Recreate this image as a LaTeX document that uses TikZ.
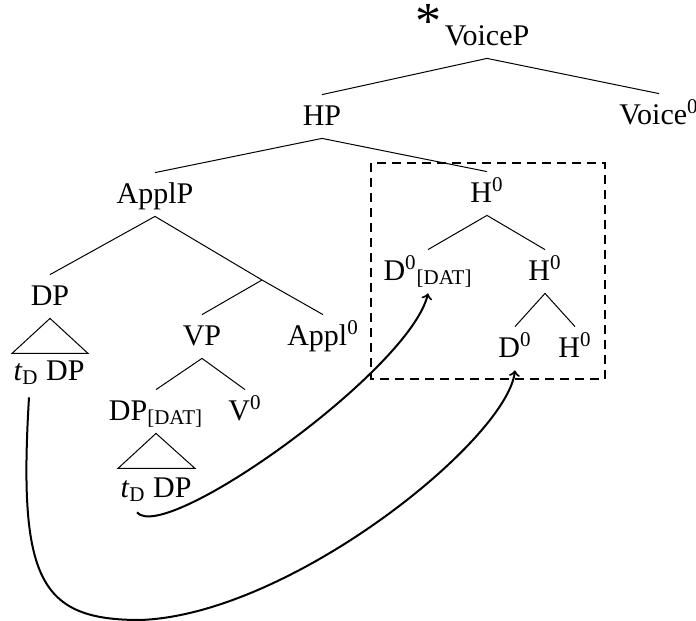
\documentclass[tikz,border=0pt]{standalone}
\usepackage{fontspec}
\setmainfont{Liberation Serif}
\usetikzlibrary{calc}
\begin{document}
\begin{tikzpicture}[x=.5pt,y=-.5pt,font=\fontsize{15}{18}\selectfont,
  lbl/.style={anchor=base,text height=11pt,text depth=2.5pt,inner ysep=4pt,inner xsep=1pt},
  br/.style={line width=.5pt},
  mv/.style={line width=1pt,->}]
 \useasboundingbox (0,0) rectangle (696,621);
 \node[lbl] (voicep) at (487,45) {VoiceP};
 \node[anchor=base east,inner sep=0pt] (star) at (voicep.base west) {\raisebox{3pt}{\fontsize{26}{26}\selectfont *}};
 \node[lbl] (hp) at (322,125) {HP};
 \node[lbl] (voice0) at (659,124) {Voice\textsuperscript{0}};
 \node[lbl] (applp) at (155,203) {ApplP};
 \node[lbl] (htop) at (487,202) {H\textsuperscript{0}};
 \node[lbl] (dp) at (50,305) {DP};
 \node[lbl] (vp) at (202,345) {VP};
 \node[lbl] (appl0) at (323,345) {Appl\textsuperscript{0}};
 \node[lbl] (dpdat) at (156,420) {DP\textsubscript{[DAT]}};
 \node[lbl] (v0) at (245,420) {V\textsuperscript{0}};
 \node[lbl] (ddat) at (428,280) {D\textsuperscript{0}\textsubscript{[DAT]}};
 \node[lbl] (hmid) at (545,280) {H\textsuperscript{0}};
 \node[lbl] (dzero) at (515,357) {D\textsuperscript{0}};
 \node[lbl] (hbot) at (575,357) {H\textsuperscript{0}};
 \node[lbl] (tda) at (49,380) {\textit{t}\textsubscript{D} DP};
 \node[lbl] (tdb) at (156,497) {\textit{t}\textsubscript{D} DP};
 \coordinate (abar) at (262,280);
 \foreach \a/\b in {voicep/hp,voicep/voice0,hp/applp,hp/htop,applp/dp,vp/dpdat,vp/v0,htop/ddat,htop/hmid,hmid/dzero,hmid/hbot}
  \draw[br] (\a.south)--(\b.north);
 \draw[br] (applp.south)--(abar)--(appl0.north); \draw[br] (abar)--(vp.north);
 \draw[br] (dp.south)--++(-38,35)--++(76,0)--cycle;
 \draw[br] (dpdat.south)--++(-38,35)--++(77,0)--cycle;
 \draw[line width=1pt,dash pattern=on 4.5pt off 3pt] (371,163) rectangle (605,379);
 \draw[mv] ($(tdb.south)+(-19,2)$) .. controls (165,545) and (410,370) .. (ddat.south);
 \draw[mv] ($(tda.south)+(-20,4)$) .. controls (18,580) and (40,620) .. (140,620)
   .. controls (290,615) and (507,440) .. (dzero.south);
\end{tikzpicture}
\end{document}
